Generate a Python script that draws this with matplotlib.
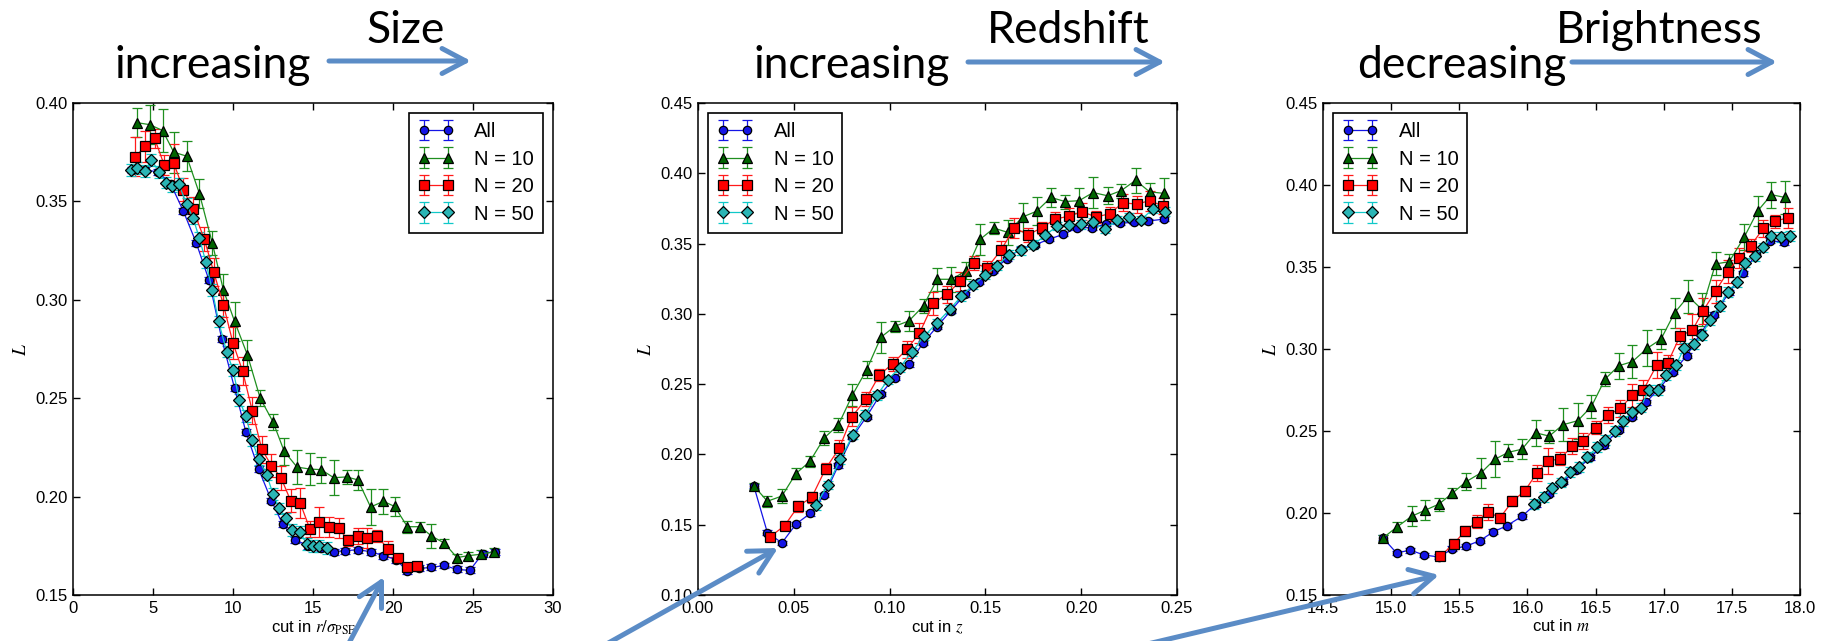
import matplotlib
matplotlib.use("Agg")
import matplotlib.pyplot as plt
from matplotlib.patches import FancyArrowPatch
from matplotlib.ticker import FormatStrFormatter

# ---------- data: panel 1, cut in r/sigma_PSF ----------
size_all_x = [3.7, 4.5, 5.3, 6.1, 6.9, 7.7, 8.5, 9.3, 10.1, 10.8, 11.6, 12.4, 13.1, 13.9, 14.7,
              15.5, 16.3, 17.0, 17.8, 18.6, 19.4, 20.2, 20.9, 21.6, 22.4, 23.2, 24.0, 24.8, 25.6, 26.4]
size_all_y = [0.366, 0.366, 0.365, 0.359, 0.345, 0.329, 0.310, 0.280, 0.255, 0.233, 0.214, 0.198, 0.186,
              0.178, 0.175, 0.174, 0.172, 0.1725, 0.173, 0.172, 0.170, 0.168, 0.162, 0.1635, 0.164, 0.165,
              0.163, 0.1625, 0.171, 0.172]

size_n10_x = [4.0, 4.8, 5.6, 6.3, 7.1, 7.9, 8.7, 9.4, 10.1, 10.9, 11.7, 12.5, 13.2, 14.0, 14.8,
              15.5, 16.3, 17.1, 17.8, 18.6, 19.4, 20.1, 20.9, 21.7, 22.4, 23.2, 24.0, 24.7, 25.5, 26.3]
size_n10_y = [0.390, 0.389, 0.386, 0.375, 0.373, 0.354, 0.329, 0.305, 0.289, 0.272, 0.250, 0.238, 0.223,
              0.215, 0.214, 0.2137, 0.2096, 0.210, 0.2085, 0.1947, 0.1976, 0.195, 0.1847, 0.1847, 0.180,
              0.1764, 0.169, 0.170, 0.1707, 0.172]
size_n10_err = [0.0075, 0.010, 0.011, 0.0105, 0.0078, 0.0075, 0.006, 0.008, 0.010, 0.0078, 0.004, 0.004,
                0.007, 0.0085, 0.008, 0.0066, 0.009, 0.0036, 0.005, 0.0093, 0.0063, 0.005, 0.003, 0.0026,
                0.006, 0.002, 0.002, 0.002, 0.002, 0.002]

size_n20_x = [3.9, 4.5, 5.1, 5.7, 6.3, 6.9, 7.5, 8.2, 8.8, 9.4, 10.0, 10.6, 11.2, 11.8, 12.4,
              13.0, 13.6, 14.2, 14.8, 15.4, 16.0, 16.6, 17.2, 17.8, 18.4, 19.0, 19.7, 20.3, 20.9, 21.5]
size_n20_y = [0.3727, 0.378, 0.382, 0.3685, 0.3694, 0.356, 0.346, 0.331, 0.314, 0.2975, 0.278, 0.2638,
              0.2437, 0.224, 0.2158, 0.2096, 0.198, 0.1967, 0.1837, 0.1872, 0.1847, 0.184, 0.1777, 0.180,
              0.179, 0.180, 0.1733, 0.1686, 0.164, 0.1647]
size_n20_err = [0.010, 0.008, 0.005, 0.005, 0.010, 0.006, 0.006, 0.006, 0.007, 0.006, 0.008, 0.007,
                0.007, 0.007, 0.006, 0.006, 0.006, 0.0075, 0.004, 0.0075, 0.005, 0.005, 0.003, 0.004,
                0.005, 0.003, 0.004, 0.002, 0.002, 0.002]

size_n50_x = [3.6, 4.0, 4.5, 4.9, 5.4, 5.8, 6.2, 6.6, 7.1, 7.5, 7.9, 8.3, 8.7, 9.1, 9.6,
              10.0, 10.4, 10.8, 11.2, 11.6, 12.1, 12.5, 12.9, 13.3, 13.7, 14.2, 14.6, 15.0, 15.4, 15.9]
size_n50_y = [0.366, 0.367, 0.3656, 0.371, 0.3648, 0.3596, 0.3576, 0.359, 0.3487, 0.3416, 0.3313, 0.3193,
              0.305, 0.289, 0.2737, 0.2644, 0.2489, 0.241, 0.2286, 0.2189, 0.2112, 0.2013, 0.194, 0.1889,
              0.183, 0.182, 0.1758, 0.1748, 0.175, 0.174]

# ---------- data: panel 2, cut in z ----------
z_all_x = [0.0291, 0.0362, 0.0438, 0.0513, 0.0586, 0.066, 0.0733, 0.0806, 0.088, 0.0953, 0.1026, 0.11,
           0.1173, 0.1246, 0.132, 0.1393, 0.1466, 0.1539, 0.1612, 0.1685, 0.1759, 0.1832, 0.1907, 0.198,
           0.2054, 0.2127, 0.2201, 0.2274, 0.2347, 0.2433]
z_all_y = [0.1777, 0.1444, 0.1371, 0.1507, 0.158, 0.1713, 0.1922, 0.2125, 0.2269, 0.2429, 0.2545, 0.264,
           0.279, 0.2907, 0.3023, 0.3138, 0.3225, 0.3306, 0.3393, 0.3463, 0.3492, 0.353, 0.3567, 0.3611,
           0.3614, 0.3637, 0.3645, 0.3651, 0.366, 0.3674]

z_n10_x = [0.0291, 0.0362, 0.0438, 0.0511, 0.0584, 0.0658, 0.0733, 0.0806, 0.088, 0.0955, 0.1028, 0.1101,
           0.1177, 0.1248, 0.1323, 0.1399, 0.1472, 0.1545, 0.1618, 0.1694, 0.1767, 0.1842, 0.1916, 0.1989,
           0.2062, 0.2138, 0.2209, 0.2284, 0.2357, 0.2433]
z_n10_y = [0.1777, 0.1667, 0.1704, 0.1864, 0.195, 0.2116, 0.2211, 0.2423, 0.2602, 0.2834, 0.2912, 0.295,
           0.3057, 0.3246, 0.3246, 0.3306, 0.353, 0.361, 0.3579, 0.3689, 0.373, 0.3828, 0.3799, 0.3805,
           0.3863, 0.384, 0.3877, 0.395, 0.3868, 0.3857]
z_n10_err = [0.002, 0.004, 0.005, 0.004, 0.004, 0.005, 0.005, 0.008, 0.006, 0.011, 0.004, 0.007, 0.005,
             0.008, 0.009, 0.006, 0.011, 0.004, 0.009, 0.010, 0.010, 0.007, 0.005, 0.009, 0.011, 0.006,
             0.005, 0.009, 0.006, 0.011]

z_n20_x = [0.0377, 0.0452, 0.0523, 0.0594, 0.0666, 0.0737, 0.0804, 0.0875, 0.0947, 0.1016, 0.1089, 0.1156,
           0.1228, 0.1297, 0.1368, 0.1439, 0.1509, 0.158, 0.1651, 0.1724, 0.1793, 0.1863, 0.1936, 0.2005,
           0.2077, 0.2148, 0.2217, 0.229, 0.2357, 0.2429]
z_n20_y = [0.1415, 0.1493, 0.1632, 0.1696, 0.1898, 0.2043, 0.2269, 0.2391, 0.2565, 0.2646, 0.2747, 0.2863,
           0.3075, 0.3138, 0.3231, 0.3362, 0.3327, 0.3451, 0.3611, 0.3564, 0.3611, 0.3674, 0.3695, 0.3727,
           0.3689, 0.3712, 0.379, 0.3781, 0.3805, 0.3767]
z_n20_err = [0.002, 0.003, 0.004, 0.004, 0.004, 0.006, 0.007, 0.005, 0.004, 0.005, 0.006, 0.007, 0.008,
             0.006, 0.007, 0.005, 0.005, 0.007, 0.007, 0.005, 0.004, 0.005, 0.006, 0.006, 0.004, 0.005,
             0.006, 0.006, 0.007, 0.006]

z_n50_x = [0.0615, 0.0678, 0.0743, 0.0808, 0.0873, 0.0934, 0.0991, 0.1052, 0.1116, 0.1181, 0.1248, 0.1313,
           0.1374, 0.1435, 0.15, 0.1561, 0.1623, 0.1688, 0.1751, 0.1812, 0.1875, 0.1934, 0.1999, 0.2062,
           0.2123, 0.2189, 0.225, 0.2311, 0.2376, 0.2437]
z_n50_y = [0.1638, 0.1783, 0.1965, 0.2139, 0.2284, 0.242, 0.253, 0.2617, 0.2727, 0.2843, 0.2936, 0.3031,
           0.3124, 0.3205, 0.3275, 0.3341, 0.3422, 0.3451, 0.3492, 0.3559, 0.3625, 0.3631, 0.3637, 0.3651,
           0.3602, 0.3669, 0.3689, 0.3669, 0.3747, 0.3727]

# ---------- data: panel 3, cut in m ----------
m_all_x = [14.94, 15.04, 15.14, 15.24, 15.35, 15.45, 15.55, 15.65, 15.75, 15.85, 15.96, 16.06, 16.16,
           16.26, 16.36, 16.46, 16.56, 16.67, 16.77, 16.87, 16.97, 17.07, 17.17, 17.27, 17.37, 17.48,
           17.58, 17.68, 17.78, 17.88]
m_all_y = [0.1848, 0.1756, 0.1774, 0.1744, 0.1732, 0.1781, 0.1798, 0.1831, 0.1885, 0.1923, 0.198, 0.2054,
           0.2116, 0.2191, 0.226, 0.234, 0.2414, 0.2506, 0.2588, 0.2675, 0.2762, 0.2861, 0.296, 0.3097,
           0.3209, 0.3345, 0.3462, 0.3581, 0.3661, 0.3651]

m_n10_x = [14.94, 15.04, 15.15, 15.25, 15.35, 15.45, 15.55, 15.66, 15.76, 15.86, 15.96, 16.06, 16.16,
           16.26, 16.37, 16.47, 16.57, 16.67, 16.77, 16.88, 16.98, 17.08, 17.18, 17.28, 17.38, 17.48,
           17.59, 17.69, 17.79, 17.89]
m_n10_y = [0.1848, 0.1913, 0.198, 0.2017, 0.2054, 0.2121, 0.2191, 0.2245, 0.2327, 0.237, 0.2389, 0.2489,
           0.2469, 0.2538, 0.2563, 0.265, 0.2817, 0.2898, 0.2923, 0.3005, 0.306, 0.3221, 0.3321, 0.3241,
           0.3519, 0.3532, 0.3681, 0.3842, 0.3941, 0.3924]
m_n10_err = [0.002, 0.003, 0.006, 0.006, 0.004, 0.003, 0.005, 0.009, 0.011, 0.005, 0.006, 0.008, 0.004,
             0.010, 0.011, 0.007, 0.004, 0.008, 0.010, 0.011, 0.006, 0.009, 0.010, 0.010, 0.007, 0.005,
             0.008, 0.009, 0.008, 0.010]

m_n20_x = [15.36, 15.46, 15.54, 15.63, 15.71, 15.8, 15.89, 15.98, 16.07, 16.15, 16.24, 16.33, 16.41,
           16.5, 16.59, 16.68, 16.77, 16.85, 16.95, 17.03, 17.12, 17.21, 17.29, 17.38, 17.47, 17.55,
           17.64, 17.73, 17.82, 17.91]
m_n20_y = [0.1736, 0.1813, 0.1888, 0.1947, 0.2005, 0.1972, 0.2072, 0.2134, 0.2245, 0.2315, 0.2332, 0.2407,
           0.2439, 0.2521, 0.2596, 0.2638, 0.2717, 0.2749, 0.2903, 0.2916, 0.308, 0.3114, 0.3234, 0.3353,
           0.347, 0.3556, 0.3631, 0.3735, 0.378, 0.38]
m_n20_err = [0.002, 0.003, 0.003, 0.004, 0.005, 0.003, 0.003, 0.003, 0.005, 0.008, 0.004, 0.005, 0.005,
             0.004, 0.005, 0.005, 0.007, 0.006, 0.008, 0.005, 0.005, 0.010, 0.008, 0.007, 0.007, 0.006,
             0.004, 0.005, 0.004, 0.006]

m_n50_x = [16.05, 16.12, 16.18, 16.25, 16.31, 16.38, 16.44, 16.51, 16.57, 16.64, 16.7, 16.77, 16.83,
           16.89, 16.96, 17.02, 17.09, 17.15, 17.22, 17.28, 17.34, 17.41, 17.47, 17.54, 17.6, 17.67,
           17.73, 17.79, 17.86, 17.93]
m_n50_y = [0.2054, 0.2096, 0.2153, 0.2186, 0.2248, 0.2278, 0.234, 0.2402, 0.2444, 0.2501, 0.2563, 0.2613,
           0.2643, 0.2749, 0.2749, 0.2841, 0.2903, 0.3005, 0.3028, 0.3085, 0.3179, 0.3263, 0.335, 0.3407,
           0.3527, 0.3569, 0.3619, 0.3686, 0.3681, 0.3688]

# error bars of "All" and "N = 50" are about the same size everywhere
ERR_ALL = 0.0015
ERR_N50 = 0.003

labels = ["All", "N = 10", "N = 20", "N = 50"]

# ---------- figure ----------
W, H = 1831, 641
plt.rcParams["font.family"] = ["Liberation Sans", "DejaVu Sans"]
plt.rcParams["mathtext.fontset"] = "stix"

ARROW_BLUE = "#5b8cc6"

styles = [
    dict(fmt="-o", color="#1414e6", mfc="#1414e6", ms=6, ecolor="#1414e6"),
    dict(fmt="-^", color="#1f8f1f", mfc="#006400", ms=7.5, ecolor="#1f8f1f"),
    dict(fmt="-s", color="#ff1a1a", mfc="#ff0000", ms=7.5, ecolor="#ff1a1a"),
    dict(fmt="-D", color="#10c8c8", mfc="#2ab5b5", ms=6.5, ecolor="#10c8c8"),
]


def px_box(left, top, right, bottom):
    return [left / W, 1 - bottom / H, (right - left) / W, (bottom - top) / H]


def draw_panel(ax, series, xlim, ylim, xticks, yticks, xfmt, xlabel, legend_loc):
    for (x, y, err), lab, st in zip(series, labels, styles):
        ax.errorbar(x, y, yerr=err, label=lab, mec="black", mew=0.9, lw=0.9,
                    elinewidth=0.9, capsize=3.5, capthick=0.9, **st)
    ax.set_xlim(*xlim)
    ax.set_ylim(*ylim)
    ax.set_xticks(xticks)
    ax.set_yticks(yticks)
    ax.xaxis.set_major_formatter(FormatStrFormatter(xfmt))
    ax.yaxis.set_major_formatter(FormatStrFormatter("%.2f"))
    ax.tick_params(direction="in", top=True, right=True, length=5, width=1, labelsize=12, pad=4)
    for sp in ax.spines.values():
        sp.set_linewidth(1.1)
    ax.set_xlabel(xlabel, fontsize=12, labelpad=2)
    ax.set_ylabel("$L$", fontsize=14)
    leg = ax.legend(loc=legend_loc, numpoints=2, fontsize=14.5, fancybox=False, framealpha=1,
                    edgecolor="black", handlelength=1.8, handletextpad=1.0, labelspacing=0.42,
                    borderpad=0.45)
    leg.get_frame().set_linewidth(1.2)


fig = plt.figure(figsize=(W / 100, H / 100), dpi=100)

ax1 = fig.add_axes(px_box(73, 103, 553, 595))
draw_panel(ax1,
           [(size_all_x, size_all_y, ERR_ALL), (size_n10_x, size_n10_y, size_n10_err),
            (size_n20_x, size_n20_y, size_n20_err), (size_n50_x, size_n50_y, ERR_N50)],
           (0, 30), (0.15, 0.40), [0, 5, 10, 15, 20, 25, 30], [0.15, 0.20, 0.25, 0.30, 0.35, 0.40],
           "%d", r"cut in $r/\sigma_{\rm PSF}$", "upper right")

ax2 = fig.add_axes(px_box(698, 103, 1177, 595))
draw_panel(ax2,
           [(z_all_x, z_all_y, ERR_ALL), (z_n10_x, z_n10_y, z_n10_err),
            (z_n20_x, z_n20_y, z_n20_err), (z_n50_x, z_n50_y, ERR_N50)],
           (0, 0.25), (0.10, 0.45), [0, 0.05, 0.10, 0.15, 0.20, 0.25],
           [0.10, 0.15, 0.20, 0.25, 0.30, 0.35, 0.40, 0.45],
           "%.2f", r"cut in $z$", "upper left")

ax3 = fig.add_axes(px_box(1323, 103, 1800, 595))
draw_panel(ax3,
           [(m_all_x, m_all_y, ERR_ALL), (m_n10_x, m_n10_y, m_n10_err),
            (m_n20_x, m_n20_y, m_n20_err), (m_n50_x, m_n50_y, ERR_N50)],
           (14.5, 18.0), (0.15, 0.45), [14.5, 15.0, 15.5, 16.0, 16.5, 17.0, 17.5, 18.0],
           [0.15, 0.20, 0.25, 0.30, 0.35, 0.40, 0.45],
           "%.1f", r"cut in $m$", "upper left")

# ---------- slide annotations ----------
TITLE_FONT = dict(fontsize=32, family=["Lato", "DejaVu Sans"], ha="left", va="baseline")
fig.text(115 / W, 1 - 78 / H, "increasing", **TITLE_FONT)
fig.text(366 / W, 1 - 43 / H, "Size", **TITLE_FONT)
fig.text(753 / W, 1 - 78 / H, "increasing", **TITLE_FONT)
fig.text(987 / W, 1 - 43 / H, "Redshift", **TITLE_FONT)
fig.text(1357 / W, 1 - 78 / H, "decreasing", **TITLE_FONT)
fig.text(1556 / W, 1 - 43 / H, "Brightness", **TITLE_FONT)


def slide_arrow(x0, y0, x1, y1):
    arr = FancyArrowPatch((x0 / W, 1 - y0 / H), (x1 / W, 1 - y1 / H), transform=fig.transFigure,
                          arrowstyle="->,head_length=0.85,head_width=0.45", mutation_scale=20,
                          lw=3.6, color=ARROW_BLUE, shrinkA=0, shrinkB=0, zorder=20)
    fig.add_artist(arr)


slide_arrow(329, 61, 471, 61)
slide_arrow(968, 62, 1165, 62)
slide_arrow(1572, 62, 1777, 62)
slide_arrow(340, 660, 384, 577)
slide_arrow(578, 660, 778, 548)
slide_arrow(1080, 660, 1439, 575)

fig.savefig("out.png", dpi=100)
